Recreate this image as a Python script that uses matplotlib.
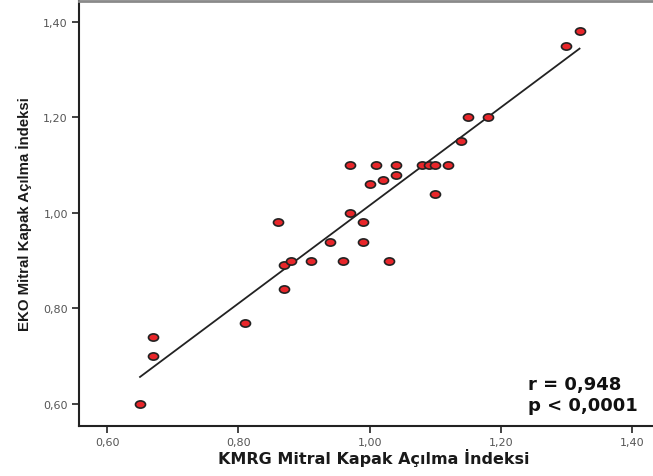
import numpy as np
import matplotlib
matplotlib.use("Agg")
import matplotlib.pyplot as plt
from matplotlib.path import Path
from matplotlib.transforms import Affine2D

# KMRG (x) vs EKO (y) mitral valve opening index
kmrg = [0.65, 0.67, 0.67, 0.81, 0.86, 0.87, 0.87, 0.88, 0.91, 0.94,
        0.96, 0.97, 0.97, 0.99, 0.99, 1.00, 1.01, 1.02, 1.03, 1.04,
        1.04, 1.08, 1.09, 1.10, 1.10, 1.12, 1.14, 1.15, 1.18, 1.30, 1.32]
eko = [0.60, 0.74, 0.70, 0.77, 0.98, 0.89, 0.84, 0.90, 0.90, 0.94,
       0.90, 1.00, 1.10, 0.98, 0.94, 1.06, 1.10, 1.07, 0.90, 1.10,
       1.08, 1.10, 1.10, 1.10, 1.04, 1.10, 1.15, 1.20, 1.20, 1.35, 1.38]
xticks = [0.60, 0.80, 1.00, 1.20, 1.40]
yticks = [0.60, 0.80, 1.00, 1.20, 1.40]
tick_labels = ["0,60", "0,80", "1,00", "1,20", "1,40"]
r_text = "r = 0,948"
p_text = "p < 0,0001"

plt.rcParams['font.family'] = ['DejaVu Sans']

fig = plt.figure(figsize=(6.53, 4.77), dpi=100)
ax = fig.add_axes([0.121, 0.105, 0.879, 0.891])

x = np.array(kmrg)
y = np.array(eko)
slope, intercept = np.polyfit(x, y, 1)
xs = np.array([x.min(), x.max()])
ax.plot(xs, slope * xs + intercept, color='#222222', lw=1.3, zorder=2)

ellipse = Path.unit_circle().transformed(Affine2D().scale(1.0, 0.72))
ax.scatter(x, y, s=52, marker=ellipse, facecolor='#e8262a',
           edgecolor='#222222', linewidth=1.2, zorder=3)

ax.set_xlim(0.557, 1.432)
ax.set_ylim(0.554, 1.444)
ax.set_xticks(xticks)
ax.set_xticklabels(tick_labels)
ax.set_yticks(yticks)
ax.set_yticklabels(tick_labels)
ax.tick_params(axis='both', direction='out', length=5, width=1.2,
               color='#222222', labelsize=8, labelcolor='#555555', pad=3)

ax.spines['right'].set_visible(False)
ax.spines['top'].set_color('#8a8a8a')
ax.spines['top'].set_linewidth(2)
for s in ('left', 'bottom'):
    ax.spines[s].set_linewidth(1.5)
    ax.spines[s].set_color('#222222')

ax.set_xlabel("KMRG Mitral Kapak Açılma İndeksi", fontsize=11.5,
              fontweight='bold', color='#1a1a1a')
ax.xaxis.set_label_coords(0.514, -0.052)
ax.set_ylabel("EKO Mitral Kapak Açılma İndeksi", fontsize=10.8,
              fontweight='bold', color='#1a1a1a', labelpad=8,
              family=['Liberation Sans Narrow', 'Liberation Sans', 'DejaVu Sans'])

ax.text(1.242, 0.631, r_text, fontsize=13, fontweight='bold',
        color='#111111', ha='left', va='baseline')
ax.text(1.242, 0.5874, p_text, fontsize=13, fontweight='bold',
        color='#111111', ha='left', va='baseline')

fig.savefig("out.png", dpi=100)
